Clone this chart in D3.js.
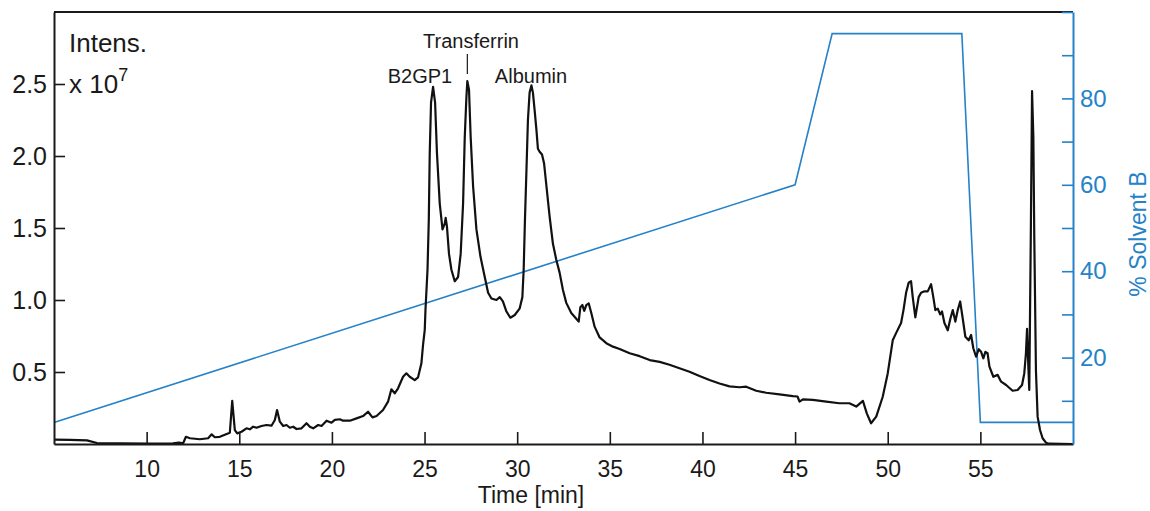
<!DOCTYPE html>
<html>
<head>
<meta charset="utf-8">
<script src="https://cdn.jsdelivr.net/npm/d3@7"></script>
<style>
  body { margin: 0; background: #fff; }
  text { font-family: "Liberation Sans", Arial, sans-serif; }
</style>
</head>
<body>
<div id="chart-container"></div>
<script>

// chromatogram trace (time in min, intensity in units of 10^7)
const traceTime = [
    5.00, 5.86, 6.78, 7.32, 8.56, 10.18, 11.42, 11.74, 11.97, 12.12, 12.34, 12.87, 13.32, 13.51, 13.68,
    13.95, 14.32, 14.49, 14.62, 14.76, 14.89, 15.12, 15.39, 15.57, 15.75, 15.93, 16.20, 16.47, 16.74,
    16.92, 17.04, 17.19, 17.37, 17.55, 17.73, 17.91, 18.09, 18.36, 18.63, 18.81, 18.99, 19.26, 19.44,
    19.71, 19.98, 20.16, 20.43, 20.60, 20.97, 21.33, 21.68, 21.95, 22.19, 22.41, 22.76, 23.03, 23.21,
    23.39, 23.57, 23.84, 24.02, 24.20, 24.47, 24.65, 24.83, 24.92, 25.01, 25.05, 25.16, 25.23, 25.28,
    25.35, 25.46, 25.57, 25.67, 25.82, 25.97, 26.09, 26.14, 26.21, 26.32, 26.45, 26.63, 26.81, 26.95,
    27.08, 27.17, 27.26, 27.31, 27.40, 27.49, 27.62, 27.80, 28.02, 28.25, 28.43, 28.61, 28.88, 29.06,
    29.23, 29.42, 29.63, 29.87, 30.13, 30.28, 30.35, 30.42, 30.50, 30.58, 30.67, 30.77, 30.85, 30.94,
    31.04, 31.12, 31.21, 31.34, 31.45, 31.58, 31.75, 31.93, 32.11, 32.29, 32.47, 32.65, 32.92, 33.19,
    33.32, 33.41, 33.52, 33.62, 33.73, 33.86, 34.00, 34.18, 34.45, 34.81, 35.17, 35.53, 36.07, 36.61,
    37.15, 37.69, 38.22, 38.76, 39.30, 39.84, 40.38, 40.92, 41.46, 42.00, 42.36, 42.90, 43.44, 44.16,
    44.88, 45.13, 45.24, 45.42, 45.96, 46.68, 47.39, 47.93, 48.30, 48.66, 48.87, 49.10, 49.38, 49.73,
    50.00, 50.27, 50.45, 50.72, 50.85, 50.99, 51.13, 51.26, 51.35, 51.49, 51.67, 51.80, 51.98, 52.16,
    52.34, 52.46, 52.57, 52.70, 52.83, 52.93, 53.06, 53.24, 53.38, 53.51, 53.65, 53.78, 53.91, 54.05,
    54.19, 54.37, 54.50, 54.62, 54.77, 54.91, 55.04, 55.16, 55.27, 55.39, 55.49, 55.70, 55.93, 56.12,
    56.39, 56.74, 57.01, 57.25, 57.37, 57.46, 57.52, 57.59, 57.64, 57.72, 57.79, 57.86, 57.91, 58.00,
    58.09, 58.22, 58.36, 58.54, 58.72, 60.00
];
const traceIntensity = [
    0.030, 0.028, 0.025, 0.007, 0.004, 0.002, 0.004, 0.010, 0.005, 0.050, 0.040, 0.033, 0.040, 0.067, 0.047,
    0.050, 0.070, 0.078, 0.300, 0.097, 0.074, 0.085, 0.109, 0.102, 0.120, 0.113, 0.125, 0.132, 0.127,
    0.167, 0.236, 0.155, 0.125, 0.132, 0.113, 0.120, 0.104, 0.109, 0.144, 0.120, 0.109, 0.132, 0.125,
    0.162, 0.148, 0.167, 0.172, 0.162, 0.162, 0.178, 0.194, 0.224, 0.185, 0.194, 0.236, 0.294, 0.380,
    0.352, 0.387, 0.467, 0.491, 0.467, 0.444, 0.463, 0.560, 0.690, 0.790, 0.930, 1.210, 1.560, 2.020,
    2.370, 2.480, 2.370, 2.020, 1.670, 1.490, 1.530, 1.570, 1.510, 1.320, 1.210, 1.130, 1.160, 1.320,
    1.670, 2.130, 2.410, 2.520, 2.460, 2.130, 1.790, 1.490, 1.300, 1.160, 1.050, 1.010, 1.000, 1.020,
    0.990, 0.920, 0.877, 0.896, 0.940, 1.020, 1.210, 1.560, 1.900, 2.250, 2.440, 2.490, 2.440, 2.320,
    2.180, 2.050, 2.030, 2.010, 1.950, 1.790, 1.580, 1.390, 1.280, 1.190, 1.070, 0.980, 0.910, 0.870,
    0.850, 0.950, 0.965, 0.925, 0.965, 0.977, 0.910, 0.815, 0.740, 0.700, 0.676, 0.660, 0.630, 0.610,
    0.583, 0.570, 0.550, 0.526, 0.502, 0.472, 0.444, 0.420, 0.400, 0.394, 0.398, 0.370, 0.356, 0.345,
    0.333, 0.330, 0.294, 0.310, 0.306, 0.294, 0.283, 0.283, 0.260, 0.300, 0.213, 0.144, 0.190, 0.328,
    0.490, 0.720, 0.770, 0.840, 0.930, 1.050, 1.120, 1.130, 1.020, 0.880, 1.020, 1.050, 1.060, 1.060,
    1.110, 1.020, 0.930, 0.940, 0.900, 0.920, 0.840, 0.790, 0.870, 0.930, 0.850, 0.930, 0.990, 0.870,
    0.745, 0.720, 0.757, 0.665, 0.606, 0.658, 0.640, 0.595, 0.640, 0.630, 0.537, 0.467, 0.480, 0.433,
    0.410, 0.370, 0.375, 0.410, 0.490, 0.630, 0.800, 0.537, 0.375, 1.420, 2.450, 2.130, 1.440, 0.510,
    0.190, 0.097, 0.040, 0.009, 0.002, 0.000
];

// solvent gradient (% B)
const gradientTime = [5, 45, 47, 54, 55, 60];
const gradientPctB = [5, 60, 95, 95, 5, 5];

const xTicks = [10, 15, 20, 25, 30, 35, 40, 45, 50, 55];
const yTicks = [0.5, 1.0, 1.5, 2.0, 2.5];
const rightTicks = [10, 20, 30, 40, 50, 60, 70, 80, 90, 100];
const rightLabels = [20, 40, 60, 80];

const peakNames = ["B2GP1", "Transferrin", "Albumin"];
const peakTimes = [25.46, 27.31, 30.77];

const blue = "#2582c8";
const ink = "#1a1a1a";

const svgWidth = 1150;
const svgHeight = 511;
const margin = { top: 12, right: 77, bottom: 67, left: 54 };
const width = svgWidth - margin.left - margin.right;
const height = svgHeight - margin.top - margin.bottom;

const svg = d3.select("#chart-container")
    .append("svg")
    .attr("width", svgWidth)
    .attr("height", svgHeight);

const chart = svg.append("g")
    .attr("transform", `translate(${margin.left},${margin.top})`);

const scaleX = d3.scaleLinear().domain([5, 60]).range([0, width]);
const scaleY = d3.scaleLinear().domain([0, 3]).range([height, 0]);
const scaleB = d3.scaleLinear().domain([0, 100]).range([height, 0]);

chart.append("clipPath")
    .attr("id", "plot-clip")
    .append("rect")
    .attr("width", width)
    .attr("height", height);

// gradient line
const gradient = gradientTime.map((t, i) => ({ t: t, b: gradientPctB[i] }));
chart.append("path")
    .datum(gradient)
    .attr("fill", "none")
    .attr("stroke", blue)
    .attr("stroke-width", 1.6)
    .attr("d", d3.line().x(d => scaleX(d.t)).y(d => scaleB(d.b)));

// chromatogram
const trace = traceTime.map((t, i) => ({ t: t, v: traceIntensity[i] }));
chart.append("path")
    .datum(trace)
    .attr("clip-path", "url(#plot-clip)")
    .attr("fill", "none")
    .attr("stroke", "#111")
    .attr("stroke-width", 2.2)
    .attr("stroke-linejoin", "round")
    .attr("d", d3.line().x(d => scaleX(d.t)).y(d => scaleY(d.v)));

// top frame line
chart.append("line")
    .attr("x1", 0).attr("x2", width)
    .attr("y1", 0).attr("y2", 0)
    .attr("stroke", ink)
    .attr("stroke-width", 2);

const fontFamily = "Liberation Sans, Arial, sans-serif";

// bottom axis, ticks pointing inward
const xAxis = chart.append("g")
    .attr("transform", `translate(0,${height})`)
    .call(d3.axisBottom(scaleX).tickValues(xTicks).tickSizeInner(-12).tickSizeOuter(0).tickPadding(17));
xAxis.select(".domain").attr("stroke", ink).attr("stroke-width", 2);
xAxis.selectAll(".tick line").attr("stroke", ink).attr("stroke-width", 1.6);
xAxis.selectAll("text").attr("font-size", "23px").attr("fill", ink).attr("font-family", fontFamily);

// left axis
const yAxis = chart.append("g")
    .call(d3.axisLeft(scaleY).tickValues(yTicks).tickFormat(d3.format(".1f")).tickSizeInner(-11).tickSizeOuter(0).tickPadding(7));
yAxis.select(".domain").attr("stroke", ink).attr("stroke-width", 2);
yAxis.selectAll(".tick line").attr("stroke", ink).attr("stroke-width", 1.6);
yAxis.selectAll("text").attr("font-size", "25px").attr("fill", ink).attr("font-family", fontFamily);

// right axis (solvent B)
const bAxis = chart.append("g")
    .attr("transform", `translate(${width},0)`)
    .call(d3.axisRight(scaleB).tickValues(rightTicks)
        .tickFormat(d => rightLabels.includes(d) ? d : "")
        .tickSizeInner(-11).tickSizeOuter(0).tickPadding(7));
bAxis.select(".domain").attr("stroke", blue).attr("stroke-width", 2);
bAxis.selectAll(".tick line").attr("stroke", blue).attr("stroke-width", 1.6);
bAxis.selectAll("text").attr("font-size", "24px").attr("fill", blue).attr("font-family", fontFamily);

svg.append("text")
    .attr("transform", "translate(1146,234) rotate(-90)")
    .attr("text-anchor", "middle")
    .attr("font-size", "23px")
    .attr("fill", blue)
    .text("% Solvent B");

svg.append("text")
    .attr("x", 531)
    .attr("y", 503)
    .attr("text-anchor", "middle")
    .attr("font-size", "23px")
    .attr("fill", ink)
    .text("Time [min]");

// intensity unit label
svg.append("text")
    .attr("x", 69)
    .attr("y", 52)
    .attr("font-size", "26px")
    .attr("fill", ink)
    .text("Intens.");

const unit = svg.append("text")
    .attr("x", 69)
    .attr("y", 93)
    .attr("font-size", "26px")
    .attr("fill", ink);
unit.append("tspan").text("x 10");
unit.append("tspan").attr("dy", -12).attr("font-size", "18px").text("7");

// peak labels
const labelX = [420, 471, 531];
const labelY = [83, 48, 83];
peakNames.forEach(function(name, i) {
    svg.append("text")
        .attr("x", labelX[i])
        .attr("y", labelY[i])
        .attr("text-anchor", "middle")
        .attr("font-size", "20px")
        .attr("fill", ink)
        .text(name);
});
// leader tick under Transferrin
chart.append("line")
    .attr("x1", scaleX(peakTimes[1]))
    .attr("x2", scaleX(peakTimes[1]))
    .attr("y1", 54 - margin.top)
    .attr("y2", 74 - margin.top)
    .attr("stroke", ink)
    .attr("stroke-width", 1.2);

</script>
</body>
</html>
